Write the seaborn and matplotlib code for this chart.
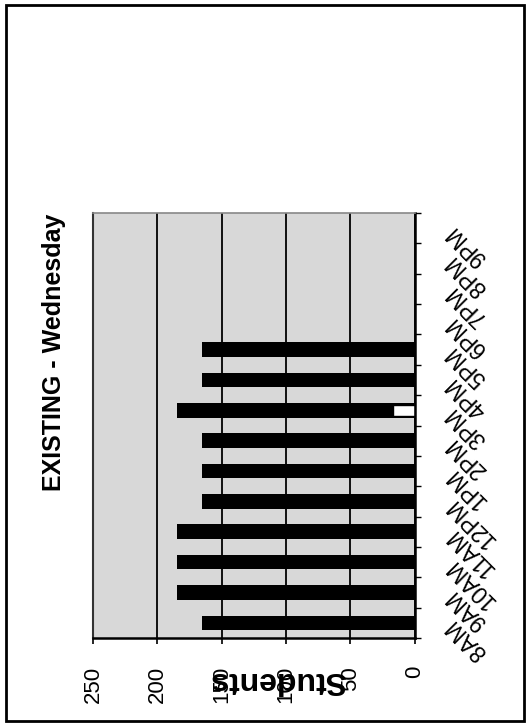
import numpy as np
import pandas as pd
import seaborn as sns
import matplotlib.pyplot as plt
from matplotlib.patches import Rectangle

# hourly head count, Wednesday (existing schedule)
hours = ['8AM', '9AM', '10AM', '11AM', '12PM', '1PM', '2PM',
         '3PM', '4PM', '5PM', '6PM', '7PM', '8PM', '9PM']
students = [165, 185, 185, 185, 165, 165, 165, 185, 165, 165, 0, 0, 0, 0]
# small light segment at the base of the 3PM bar
segment = [0, 0, 0, 0, 0, 0, 0, 17, 0, 0, 0, 0, 0, 0]
student_ticks = [0, 50, 100, 150, 200, 250]

df = pd.DataFrame({'hour': hours, 'students': students, 'segment': segment})

sns.set_style('white')
plt.rcParams['font.family'] = ['Liberation Sans', 'DejaVu Sans']
plt.rcParams['text.color'] = 'black'
plt.rcParams['axes.labelcolor'] = 'black'
plt.rcParams['xtick.color'] = 'black'
plt.rcParams['ytick.color'] = 'black'

fig = plt.figure(figsize=(5.29, 7.26), dpi=100)
ax = fig.add_axes([0.176, 0.1212, 0.608, 0.5854])

order = hours[::-1]  # 9PM at the top, 8AM at the bottom
sns.barplot(data=df, x='students', y='hour', orient='h', order=order,
            color='black', saturation=1, width=0.48, linewidth=0, ax=ax)
sns.barplot(data=df, x='segment', y='hour', orient='h', order=order,
            color='white', saturation=1, width=0.36, edgecolor='black',
            linewidth=1, ax=ax)

ax.set_facecolor('#d8d8d8')
ax.set_xlim(250, 0)
ax.set_ylim(len(hours) - 0.5, -0.5)
ax.set_axisbelow(True)
ax.xaxis.grid(True, color='black', linewidth=1.3)
ax.yaxis.grid(False)

ax.set_xticks(student_ticks)
ax.set_xticklabels([str(t) for t in student_ticks], rotation=90, fontsize=16)
ax.tick_params(axis='x', direction='out', length=4, width=1.2,
               color='black', pad=16, bottom=True)

ax.yaxis.tick_right()
ax.set_yticks(np.arange(len(hours)))
ax.set_yticklabels(order, fontsize=16.5, rotation=135,
                   rotation_mode='anchor', ha='right', va='center')
ax.tick_params(axis='y', which='major', length=0, pad=25)
ax.set_yticks(np.arange(-0.5, len(hours), 1), minor=True)
ax.tick_params(axis='y', which='minor', direction='out', length=4,
               width=1, color='black', right=True, left=False)

for side in ['right', 'bottom']:
    ax.spines[side].set_color('black')
    ax.spines[side].set_linewidth(1.8)
ax.spines['left'].set_color('#333333')
ax.spines['left'].set_linewidth(1.5)
ax.spines['top'].set_color('#888888')
ax.spines['top'].set_linewidth(1.2)

ax.set_ylabel('')
ax.set_xlabel('Students', fontsize=23, fontweight='bold', rotation=180,
              va='center', ha='center')
ax.xaxis.set_label_coords(0.575, -0.099)

fig.text(0.102, 0.5145, 'EXISTING - Wednesday', rotation=90, fontsize=18,
         fontweight='bold', ha='center', va='center')

fig.patches.append(Rectangle((6 / 529, 5 / 726), 518 / 529, 716 / 726,
                             transform=fig.transFigure, fill=False,
                             edgecolor='black', linewidth=2))

fig.savefig('out.png', dpi=100)
